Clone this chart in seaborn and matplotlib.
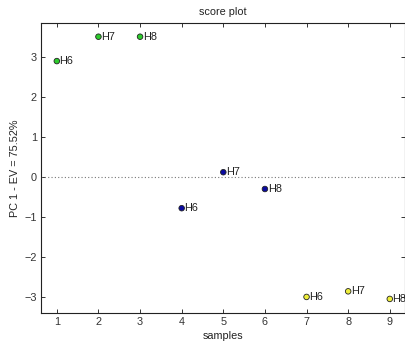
import matplotlib
matplotlib.use("Agg")
import matplotlib.pyplot as plt
import seaborn as sns
import pandas as pd

samples = [1, 2, 3, 4, 5, 6, 7, 8, 9]
scores = [2.9, 3.51, 3.51, -0.78, 0.12, -0.3, -3.0, -2.86, -3.05]
labels = ["H6", "H7", "H8", "H6", "H7", "H8", "H6", "H7", "H8"]
groups = ["A", "A", "A", "B", "B", "B", "C", "C", "C"]
group_colors = {"A": "#2ccc2c", "B": "#0a0aa0", "C": "#eeee3a"}

df = pd.DataFrame({"samples": samples, "score": scores, "label": labels, "group": groups})

sns.set_style("white")
plt.rcParams["font.family"] = ["Liberation Sans", "DejaVu Sans"]

FS = 7.8
fig = plt.figure(figsize=(4.06, 3.45), dpi=100)
ax = fig.add_axes([0.101, 0.093, 0.897, 0.84])

sns.scatterplot(data=df, x="samples", y="score", hue="group", palette=group_colors,
                s=16, edgecolor="#222222", linewidth=0.6, legend=False, ax=ax, zorder=3)

for _, r in df.iterrows():
    ax.annotate(r["label"], (r["samples"], r["score"]), xytext=(2, 0),
                textcoords="offset points", va="center", ha="left", fontsize=FS,
                color="#222222", annotation_clip=False, clip_on=False)

ax.axhline(0, color="#777777", linestyle=(0, (1, 2)), linewidth=0.8, zorder=1)

ax.set_xlim(0.62, 9.37)
ax.set_ylim(-3.4, 3.85)
ax.set_xticks(range(1, 10))
ax.set_yticks(range(-3, 4))
ax.tick_params(direction="in", length=3, width=0.7, labelsize=FS, colors="#333333",
               top=True, right=True, bottom=True, left=True, pad=3)
for sp in ax.spines.values():
    sp.set_color("#222222")
    sp.set_linewidth(0.8)

ax.set_title("score plot", fontsize=FS, color="#222222", pad=6)
ax.set_xlabel("samples", fontsize=FS, color="#222222", labelpad=3)
ax.set_ylabel("PC 1 - EV = 75.52%", fontsize=FS, color="#222222", labelpad=3)

fig.savefig("out.png", dpi=100)
